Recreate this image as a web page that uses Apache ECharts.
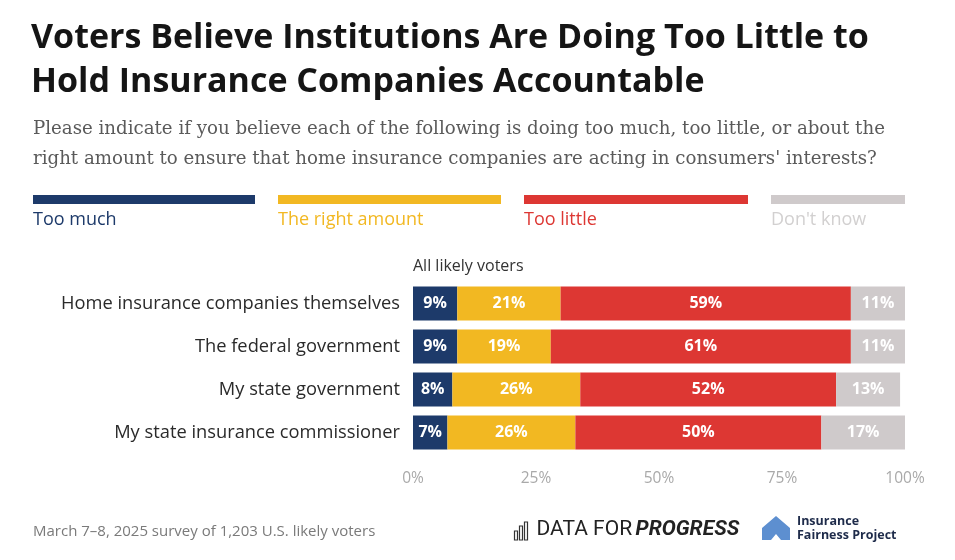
<!DOCTYPE html>
<html lang="en">
<head>
  <meta charset="UTF-8">
  <script src="https://cdn.jsdelivr.net/npm/echarts@6/dist/echarts.min.js"></script>
  <title>Insurance accountability</title>
  <style>
    html, body, main {
      height: 100%;
      width: 100%;
      padding: 0;
      margin: 0;
      background: #fff;
    }
  </style>
</head>
<body>
  <main></main>
</body>
<script>
  const categories = [
    'Home insurance companies themselves',
    'The federal government',
    'My state government',
    'My state insurance commissioner'
  ]
  const tooMuch = [9, 9, 8, 7]
  const rightAmount = [21, 19, 26, 26]
  const tooLittle = [59, 61, 52, 50]
  const dontKnow = [11, 11, 13, 17]
  const tickLabels = ['0%', '25%', '50%', '75%', '100%']

  const names = ['Too much', 'The right amount', 'Too little', "Don't know"]
  const colors = ['#1d3a6a', '#f2b822', '#dd3733', '#cfcacb']
  const sans = 'Open Sans'

  const makeSeries = (name, data, color) => ({
    type: 'bar',
    name: name,
    stack: 'total',
    barWidth: 34,
    data: data,
    itemStyle: { color: color },
    label: {
      show: true,
      position: 'inside',
      formatter: '{c}%',
      color: '#fff',
      fontFamily: sans,
      fontWeight: 'bold',
      fontSize: 16
    }
  })

  // legend: long colour strip with the name under it
  const legendX = [33, 278, 524, 771]
  const legendW = [222, 223, 224, 134]
  const legendGraphics = []
  names.forEach((n, i) => {
    legendGraphics.push({
      type: 'rect',
      left: legendX[i], top: 195,
      shape: { width: legendW[i], height: 9 },
      style: { fill: colors[i] }
    })
    legendGraphics.push({
      type: 'text',
      left: legendX[i], top: 211,
      style: { text: n, fill: i === 3 ? '#d2d0d0' : colors[i], font: '500 18px "' + sans + '"' }
    })
  })

  const option = {
    animation: false,
    grid: { left: 413, right: 50, top: 282, height: 172 },
    xAxis: {
      type: 'value',
      min: 0,
      max: 100,
      interval: 25,
      splitLine: { show: false },
      axisLine: { show: false },
      axisTick: { show: false },
      axisLabel: {
        margin: 17,
        color: '#a9a9a9',
        fontFamily: sans,
        fontSize: 15.5,
        formatter: (v) => tickLabels[v / 25]
      }
    },
    yAxis: {
      type: 'category',
      inverse: true,
      data: categories,
      axisLine: { show: false },
      axisTick: { show: false },
      axisLabel: {
        margin: 13,
        color: '#2a2a2a',
        fontFamily: sans,
        fontSize: 18.3
      }
    },
    series: [
      makeSeries(names[0], tooMuch, colors[0]),
      makeSeries(names[1], rightAmount, colors[1]),
      makeSeries(names[2], tooLittle, colors[2]),
      makeSeries(names[3], dontKnow, colors[3])
    ],
    graphic: [
      {
        type: 'text', left: 31, top: 16,
        style: {
          text: 'Voters Believe Institutions Are Doing Too Little to\nHold Insurance Companies Accountable',
          fill: '#151515', font: 'bold 34px "' + sans + '"', lineHeight: 44
        }
      },
      {
        type: 'text', left: 33, top: 114,
        style: {
          text: 'Please indicate if you believe each of the following is doing too much, too little, or about the\nright amount to ensure that home insurance companies are acting in consumers\' interests?',
          fill: '#5a5a5a', font: '18.2px "DejaVu Serif"', lineHeight: 30
        }
      },
      ...legendGraphics,
      {
        type: 'text', left: 413, top: 258,
        style: { text: 'All likely voters', fill: '#333', font: '16px "' + sans + '"' }
      },
      {
        type: 'text', left: 33, top: 524,
        style: { text: 'March 7–8, 2025 survey of 1,203 U.S. likely voters', fill: '#7a7a7a', font: '15px "' + sans + '"' }
      },
      // Data for Progress mark
      {
        type: 'group', left: 512, top: 519,
        children: [
          { type: 'rect', shape: { x: 0, y: 10, width: 3, height: 9 }, style: { fill: 'none', stroke: '#333', lineWidth: 1.2 } },
          { type: 'rect', shape: { x: 5, y: 5, width: 3, height: 14 }, style: { fill: 'none', stroke: '#333', lineWidth: 1.2 } },
          { type: 'rect', shape: { x: 10, y: 1, width: 3, height: 18 }, style: { fill: 'none', stroke: '#333', lineWidth: 1.2 } },
          { type: 'text', x: 22, y: -2, style: { text: 'DATA FOR', fill: '#222', font: '21px "Roboto"' } },
          { type: 'text', x: 121, y: -2, style: { text: 'PROGRESS', fill: '#222', font: 'italic bold 21px "Roboto"' } }
        ]
      },
      // Insurance Fairness Project mark
      {
        type: 'polygon', left: 762, top: 516,
        shape: { points: [[0, 12], [14, 0], [28, 12], [28, 24], [19, 24], [14, 18], [9, 24], [0, 24]] },
        style: { fill: '#5d8fd0' }
      },
      {
        type: 'text', left: 797, top: 514,
        style: { text: 'Insurance\nFairness Project', fill: '#1e2b4a', font: 'bold 12.5px "' + sans + '"', lineHeight: 14 }
      }
    ]
  }

  const ins = echarts.init(document.getElementsByTagName('main')[0])
  ins.setOption(option)
</script>
</html>
